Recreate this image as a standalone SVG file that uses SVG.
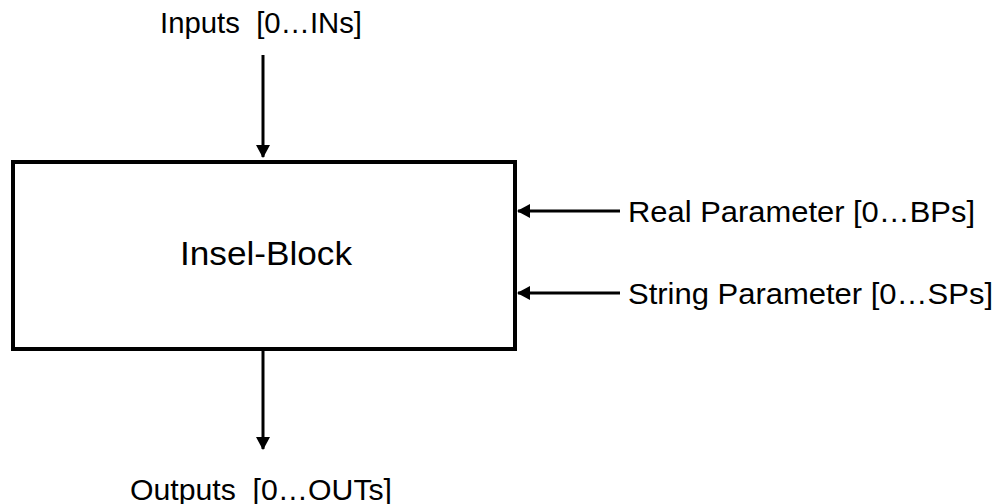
<svg xmlns="http://www.w3.org/2000/svg" width="1003" height="504" viewBox="0 0 1003 504">
  <style>
    .lbl { font-family: "Liberation Sans", Arial, sans-serif; font-size: 29px; fill: #000; }
    .title { font-family: "Liberation Sans", Arial, sans-serif; font-size: 34px; fill: #000; }
    .conn { stroke: #000; stroke-width: 3; fill: none; }
  </style>
  <defs>
    <marker id="arrow" markerWidth="13" markerHeight="14" refX="12" refY="7" orient="auto" markerUnits="userSpaceOnUse">
      <path d="M0,0 L13,7 L0,14 Z" fill="#000"/>
    </marker>
  </defs>
  <rect width="1003" height="504" fill="#fff"/>

  <g id="insel-block">
    <rect x="13" y="162" width="502" height="187" fill="#fff" stroke="#000" stroke-width="4"/>
    <text class="title" x="180" y="265" textLength="172" lengthAdjust="spacingAndGlyphs">Insel-Block</text>
  </g>

  <g id="inputs">
    <text class="lbl" x="160" y="33" textLength="202" lengthAdjust="spacingAndGlyphs" xml:space="preserve">Inputs  [0…INs]</text>
  </g>
  <g id="outputs">
    <text class="lbl" x="130" y="500" textLength="262" lengthAdjust="spacingAndGlyphs" xml:space="preserve">Outputs  [0…OUTs]</text>
  </g>
  <g id="real-parameter">
    <text class="lbl" x="628" y="222" textLength="347" lengthAdjust="spacingAndGlyphs">Real Parameter [0…BPs]</text>
  </g>
  <g id="string-parameter">
    <text class="lbl" x="628" y="304" textLength="365" lengthAdjust="spacingAndGlyphs">String Parameter [0…SPs]</text>
  </g>

  <g id="connectors">
    <line class="conn" x1="263" y1="55" x2="263" y2="157" marker-end="url(#arrow)"/>
    <line class="conn" x1="263" y1="349" x2="263" y2="449" marker-end="url(#arrow)"/>
    <line class="conn" x1="620" y1="211" x2="518" y2="211" marker-end="url(#arrow)"/>
    <line class="conn" x1="620" y1="293" x2="518" y2="293" marker-end="url(#arrow)"/>
  </g>
</svg>
